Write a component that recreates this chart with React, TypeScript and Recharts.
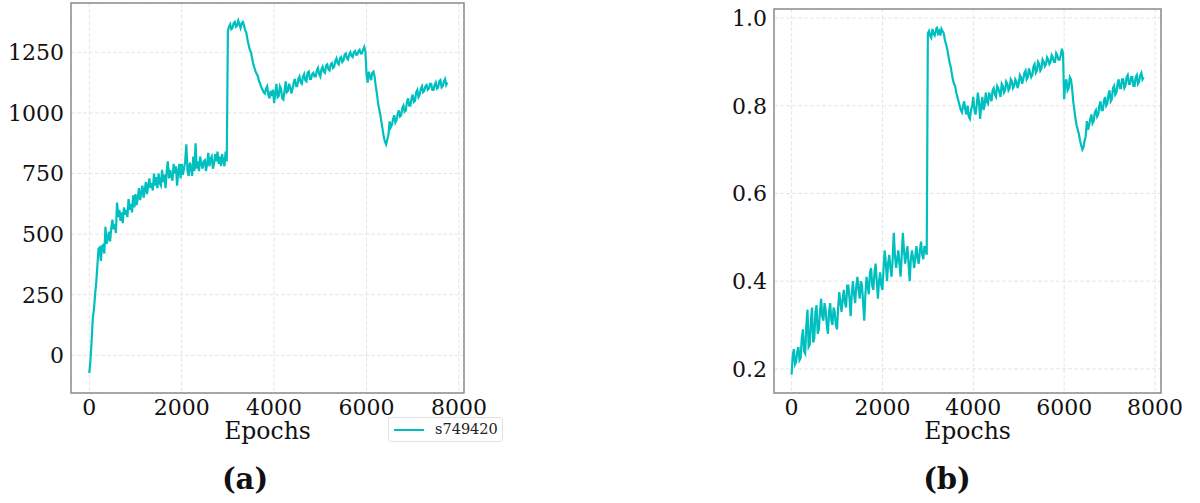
import React from "react";
import {
  CartesianGrid,
  Line,
  LineChart,
  ReferenceArea,
  XAxis,
  YAxis,
} from "recharts";

const epochs = [
  0, 25, 50, 75, 100, 125, 150, 175, 200, 225, 250, 275, 300, 325, 350, 375, 400, 425, 450, 475,
  500, 525, 550, 575, 600, 625, 650, 675, 700, 725, 750, 775, 800, 825, 850, 875, 900, 925, 950, 975,
  1000, 1025, 1050, 1075, 1100, 1125, 1150, 1175, 1200, 1225, 1250, 1275, 1300, 1325, 1350, 1375, 1400, 1425, 1450, 1475,
  1500, 1525, 1550, 1575, 1600, 1625, 1650, 1675, 1700, 1725, 1750, 1775, 1800, 1825, 1850, 1875, 1900, 1925, 1950, 1975,
  2000, 2025, 2050, 2075, 2100, 2125, 2150, 2175, 2200, 2225, 2250, 2275, 2300, 2325, 2350, 2375, 2400, 2425, 2450, 2475,
  2500, 2525, 2550, 2575, 2600, 2625, 2650, 2675, 2700, 2725, 2750, 2775, 2800, 2825, 2850, 2875, 2900, 2925, 2950, 2975,
  3000, 3025, 3050, 3075, 3100, 3125, 3150, 3175, 3200, 3225, 3250, 3275, 3300, 3325, 3350, 3375, 3400, 3425, 3450, 3475,
  3500, 3525, 3550, 3575, 3600, 3625, 3650, 3675, 3700, 3725, 3750, 3775, 3800, 3825, 3850, 3875, 3900, 3925, 3950, 3975,
  4000, 4025, 4050, 4075, 4100, 4125, 4150, 4175, 4200, 4225, 4250, 4275, 4300, 4325, 4350, 4375, 4400, 4425, 4450, 4475,
  4500, 4525, 4550, 4575, 4600, 4625, 4650, 4675, 4700, 4725, 4750, 4775, 4800, 4825, 4850, 4875, 4900, 4925, 4950, 4975,
  5000, 5025, 5050, 5075, 5100, 5125, 5150, 5175, 5200, 5225, 5250, 5275, 5300, 5325, 5350, 5375, 5400, 5425, 5450, 5475,
  5500, 5525, 5550, 5575, 5600, 5625, 5650, 5675, 5700, 5725, 5750, 5775, 5800, 5825, 5850, 5875, 5900, 5925, 5950, 5975,
  6000, 6025, 6050, 6075, 6100, 6125, 6150, 6175, 6200, 6225, 6250, 6275, 6300, 6325, 6350, 6375, 6400, 6425, 6450, 6475,
  6500, 6525, 6550, 6575, 6600, 6625, 6650, 6675, 6700, 6725, 6750, 6775, 6800, 6825, 6850, 6875, 6900, 6925, 6950, 6975,
  7000, 7025, 7050, 7075, 7100, 7125, 7150, 7175, 7200, 7225, 7250, 7275, 7300, 7325, 7350, 7375, 7400, 7425, 7450, 7475,
  7500, 7525, 7550, 7575, 7600, 7625, 7650, 7675, 7700, 7725, 7750,
];

// panel (a)
const rewardA = [
  -73, -20, 60, 150, 190, 250, 300, 370, 440, 445, 390, 450, 455, 420, 530, 460, 480, 510, 470, 525,
  560, 520, 540, 505, 630, 570, 600, 555, 590, 545, 610, 580, 600, 570, 645, 600, 625, 590, 660, 610,
  665, 620, 650, 690, 640, 670, 700, 650, 680, 715, 665, 700, 730, 690, 710, 680, 750, 700, 735, 690,
  750, 710, 700, 765, 715, 745, 690, 760, 800, 730, 765, 740, 720, 790, 750, 780, 700, 760, 790, 730,
  790, 745, 770, 800, 870, 760, 740, 795, 775, 740, 820, 760, 875, 770, 800, 760, 820, 790, 770, 800,
  805, 760, 790, 835, 780, 810, 820, 770, 790, 830, 800, 840, 790, 820, 780, 830, 800, 780, 840, 800,
  1340, 1355, 1365, 1345, 1350, 1370, 1375, 1355, 1360, 1380, 1365, 1350, 1370, 1375, 1360, 1340, 1330, 1300, 1280, 1260,
  1250, 1225, 1200, 1185, 1170, 1160, 1150, 1130, 1120, 1105, 1095, 1085, 1080, 1100, 1110, 1075, 1060, 1090, 1070, 1095,
  1040, 1080, 1120, 1065, 1070, 1110, 1100, 1060, 1055, 1090, 1130, 1085, 1090, 1120, 1105, 1080, 1100, 1125, 1140, 1110,
  1110, 1140, 1150, 1125, 1120, 1150, 1160, 1135, 1130, 1165, 1170, 1140, 1140, 1160, 1165, 1150, 1150, 1175, 1185, 1160,
  1150, 1180, 1190, 1170, 1165, 1195, 1200, 1180, 1175, 1200, 1205, 1185, 1190, 1215, 1225, 1205, 1200, 1225, 1230, 1210,
  1215, 1240, 1245, 1225, 1220, 1240, 1250, 1235, 1230, 1250, 1255, 1240, 1240, 1255, 1260, 1245, 1245, 1260, 1272, 1255,
  1160, 1125, 1170, 1150, 1135, 1165, 1170, 1150, 1110, 1080, 1040, 1015, 990, 960, 930, 900, 880, 870, 890, 910,
  965, 940, 950, 975, 990, 960, 970, 995, 1010, 985, 990, 1020, 1030, 1005, 1010, 1045, 1060, 1030, 1030, 1060,
  1075, 1045, 1050, 1085, 1095, 1065, 1075, 1100, 1110, 1085, 1090, 1110, 1115, 1095, 1100, 1120, 1120, 1095, 1095, 1115,
  1125, 1100, 1105, 1130, 1135, 1105, 1110, 1130, 1140, 1115, 1125,
];

// panel (b)
const scoreB = [
  0.187, 0.23, 0.245, 0.21, 0.215, 0.24, 0.25, 0.22, 0.225, 0.27, 0.29, 0.24, 0.235, 0.3, 0.335, 0.25, 0.255, 0.31, 0.34, 0.26,
  0.27, 0.33, 0.345, 0.28, 0.29, 0.33, 0.36, 0.32, 0.31, 0.35, 0.335, 0.3, 0.28, 0.33, 0.35, 0.31, 0.3, 0.34, 0.33, 0.3,
  0.29, 0.34, 0.375, 0.35, 0.33, 0.36, 0.38, 0.35, 0.34, 0.39, 0.39, 0.36, 0.32, 0.37, 0.4, 0.37, 0.35, 0.39, 0.41, 0.38,
  0.36, 0.4, 0.39, 0.35, 0.31, 0.37, 0.41, 0.39, 0.37, 0.42, 0.43, 0.39, 0.38, 0.42, 0.44, 0.4, 0.36, 0.4, 0.42, 0.39,
  0.38, 0.43, 0.47, 0.44, 0.4, 0.44, 0.46, 0.43, 0.41, 0.45, 0.51, 0.46, 0.43, 0.45, 0.47, 0.44, 0.41, 0.46, 0.51, 0.47,
  0.44, 0.46, 0.48, 0.44, 0.4, 0.45, 0.47, 0.45, 0.43, 0.46, 0.48, 0.45, 0.44, 0.47, 0.49, 0.46, 0.45, 0.48, 0.47, 0.46,
  0.965, 0.97, 0.96, 0.955, 0.975, 0.965, 0.96, 0.97, 0.98, 0.965, 0.97, 0.96, 0.975, 0.97, 0.965, 0.95, 0.94, 0.93, 0.915, 0.9,
  0.89, 0.875, 0.86, 0.85, 0.845, 0.83, 0.82, 0.81, 0.8, 0.79, 0.785, 0.8, 0.81, 0.79, 0.78, 0.8, 0.775, 0.77, 0.79, 0.8,
  0.82, 0.79, 0.78, 0.8, 0.83, 0.81, 0.77, 0.8, 0.82, 0.79, 0.8, 0.83, 0.81, 0.805, 0.83, 0.82, 0.81, 0.835, 0.84, 0.825,
  0.82, 0.845, 0.84, 0.83, 0.82, 0.85, 0.845, 0.83, 0.835, 0.855, 0.85, 0.835, 0.84, 0.86, 0.855, 0.84, 0.845, 0.86, 0.855, 0.84,
  0.85, 0.87, 0.865, 0.85, 0.86, 0.875, 0.88, 0.86, 0.865, 0.885, 0.875, 0.865, 0.87, 0.89, 0.895, 0.875, 0.88, 0.9, 0.895, 0.88,
  0.885, 0.905, 0.9, 0.89, 0.895, 0.91, 0.905, 0.895, 0.9, 0.915, 0.91, 0.9, 0.9, 0.92, 0.915, 0.905, 0.905, 0.915, 0.93, 0.92,
  0.815, 0.85, 0.86, 0.835, 0.84, 0.865, 0.86, 0.84, 0.81, 0.79, 0.77, 0.755, 0.745, 0.735, 0.72, 0.71, 0.7, 0.705, 0.72, 0.73,
  0.765, 0.745, 0.755, 0.77, 0.78, 0.76, 0.765, 0.785, 0.79, 0.775, 0.78, 0.8, 0.81, 0.79, 0.79, 0.81, 0.82, 0.8, 0.805, 0.825,
  0.835, 0.81, 0.815, 0.84, 0.845, 0.825, 0.83, 0.85, 0.86, 0.84, 0.84, 0.86, 0.86, 0.84, 0.845, 0.865, 0.87, 0.85, 0.85, 0.865,
  0.865, 0.845, 0.845, 0.865, 0.87, 0.85, 0.855, 0.87, 0.875, 0.86, 0.865,
];

const xTicks = [0, 2000, 4000, 6000, 8000];
const yTicksA = [0, 250, 500, 750, 1000, 1250];
const yTicksB = [0.2, 0.4, 0.6, 0.8, 1.0];

const seriesName = "s749420";
const xDomainA: [number, number] = [-396, 8110];
const yDomainA: [number, number] = [-155, 1453];
const xDomainB: [number, number] = [-387, 8132];
const yDomainB: [number, number] = [0.145, 1.0205];

const dataA = epochs.map((e, i) => ({ epoch: e, value: rewardA[i] }));
const dataB = epochs.map((e, i) => ({ epoch: e, value: scoreB[i] }));

const FONT = "DejaVu Serif";
const LINE = "#00bfbf";
const tickStyle = { fontSize: 22, fill: "#111", fontFamily: FONT };

function Panel({
  data,
  xDomain,
  yDomain,
  yTicks,
  yWidth,
  width,
  right,
  top,
  fmt,
}: {
  data: { epoch: number; value: number }[];
  xDomain: [number, number];
  yDomain: [number, number];
  yTicks: number[];
  yWidth: number;
  width: number;
  right: number;
  top: number;
  fmt?: (v: number) => string;
}) {
  return (
    <LineChart
      width={width}
      height={470}
      data={data}
      margin={{ top, right, bottom: 27, left: 0 }}
    >
      <CartesianGrid stroke="#e6e6e6" strokeDasharray="4 2" />
      <XAxis
        type="number"
        dataKey="epoch"
        domain={xDomain}
        ticks={xTicks}
        tick={tickStyle}
        tickLine={false}
        axisLine={false}
        tickSize={0}
        tickMargin={6}
        height={50}
        label={{
          value: "Epochs",
          position: "insideBottom",
          offset: 4,
          style: { fontSize: 23.5, fill: "#111", fontFamily: FONT },
        }}
      />
      <YAxis
        type="number"
        domain={yDomain}
        ticks={yTicks}
        tick={tickStyle}
        tickFormatter={fmt}
        tickLine={false}
        axisLine={false}
        tickSize={0}
        tickMargin={7}
        width={yWidth}
      />
      <ReferenceArea
        x1={xDomain[0]}
        x2={xDomain[1]}
        y1={yDomain[0]}
        y2={yDomain[1]}
        fill="none"
        stroke="#8c8c8c"
        strokeWidth={1.5}
      />
      <Line
        type="linear"
        dataKey="value"
        stroke={LINE}
        strokeWidth={2.2}
        dot={false}
        isAnimationActive={false}
      />
    </LineChart>
  );
}

const captionStyle: React.CSSProperties = {
  position: "absolute",
  top: 462,
  width: 100,
  textAlign: "center",
  fontSize: 29,
  fontWeight: "bold",
  color: "#111",
};

export default function App() {
  return (
    <div
      style={{
        position: "absolute",
        left: 0,
        top: 0,
        width: 1200,
        height: 503,
        overflow: "hidden",
        background: "#fff",
        fontFamily: FONT,
      }}
    >
      <div style={{ position: "absolute", left: 0, top: 0 }}>
        <Panel
          data={dataA}
          xDomain={xDomainA}
          yDomain={yDomainA}
          yTicks={yTicksA}
          yWidth={71}
          width={510}
          right={46}
          top={3}
        />
      </div>
      <div style={{ position: "absolute", left: 700, top: 0 }}>
        <Panel
          data={dataB}
          xDomain={xDomainB}
          yDomain={yDomainB}
          yTicks={yTicksB}
          yWidth={74}
          width={495}
          right={34}
          top={9}
          fmt={(v) => v.toFixed(1)}
        />
      </div>
      {/* legend */}
      <div
        style={{
          position: "absolute",
          left: 388,
          top: 417,
          width: 115,
          height: 25,
          border: "1px solid #e2e2e2",
          borderRadius: 3,
          background: "#fff",
          boxSizing: "border-box",
        }}
      >
        <svg width={40} height={25} style={{ position: "absolute", left: 0, top: 0 }}>
          <line x1={5} x2={35} y1={12} y2={12} stroke={LINE} strokeWidth={2} />
        </svg>
        <span
          style={{
            position: "absolute",
            left: 46,
            top: 3,
            fontSize: 14.5,
            color: "#222",
            whiteSpace: "nowrap",
          }}
        >
          {seriesName}
        </span>
      </div>
      <div style={{ ...captionStyle, left: 195 }}>(a)</div>
      <div style={{ ...captionStyle, left: 897 }}>(b)</div>
    </div>
  );
}
